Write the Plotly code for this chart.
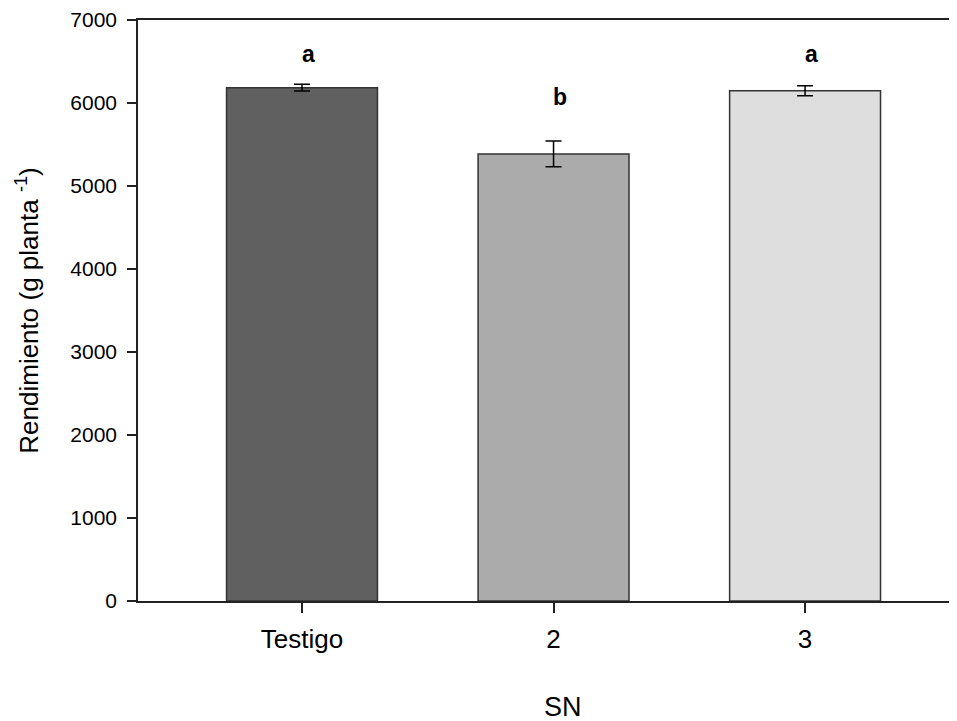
import plotly.graph_objects as go

categories = ["Testigo", "2", "3"]
means = [6185, 5387, 6147]
errors = [40, 155, 60]
bar_colors = ["#606060", "#ababab", "#dedede"]
letters = ["a", "b", "a"]
letter_y = [6590, 6077, 6590]
y_ticks = [0, 1000, 2000, 3000, 4000, 5000, 6000, 7000]

FONT = "Liberation Sans, Arial, sans-serif"

fig = go.Figure()
fig.add_trace(go.Bar(
    x=categories, y=means,
    width=0.6,
    marker=dict(color=bar_colors, line=dict(color="#333333", width=1.5)),
    error_y=dict(type="data", array=errors, color="black", thickness=1.5, width=8),
    showlegend=False,
))

for i, (l, yv) in enumerate(zip(letters, letter_y)):
    fig.add_annotation(x=i, y=yv, text="<b>%s</b>" % l, showarrow=False, xshift=6,
                       font=dict(family=FONT, size=23, color="black"),
                       xanchor="center", yanchor="middle")

fig.add_annotation(xref="paper", yref="paper", x=0.519, y=-0.153, text="SN",
                   showarrow=False, xanchor="center", yanchor="top",
                   font=dict(family=FONT, size=27, color="black"))

fig.update_layout(
    width=949, height=713,
    margin=dict(l=130, r=0, t=12, b=120),
    paper_bgcolor="white", plot_bgcolor="white",
    font=dict(family=FONT, color="black"),
    bargap=0.4,
)
fig.update_xaxes(
    type="category",
    range=[-0.652, 2.604],
    showline=True, linecolor="#222222", linewidth=1.5, mirror=True,
    ticks="outside", ticklen=10, tickcolor="#222222", tickwidth=1.5,
    tickfont=dict(family=FONT, size=26, color="black"),
    ticklabelstandoff=4,
    showgrid=False, zeroline=False, automargin=False,
)
fig.update_yaxes(
    range=[0, 7000], tickvals=y_ticks,
    showline=True, linecolor="#222222", linewidth=1.5,
    ticks="outside", ticklen=9, tickcolor="#222222", tickwidth=1.5,
    tickfont=dict(family=FONT, size=21, color="black"),
    ticklabelstandoff=6,
    showgrid=False, zeroline=False, automargin=False,
    title=dict(text="Rendimiento (g planta <sup>-1</sup>)",
               font=dict(family=FONT, size=26, color="black"), standoff=24),
)

fig.write_html("out.html")
